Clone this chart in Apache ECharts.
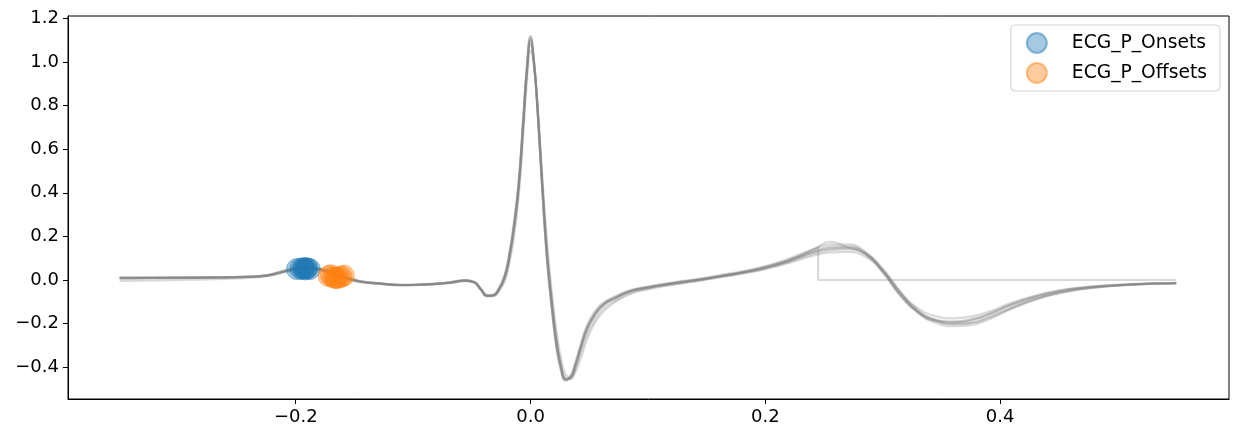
<!DOCTYPE html>
<html>
<head>
<meta charset="utf-8">
<script src="https://cdn.jsdelivr.net/npm/echarts@6/dist/echarts.min.js"></script>
<style>html,body{margin:0;padding:0;background:#fff}#c{width:1239px;height:439px}</style>
</head>
<body>
<div id="c"></div>
<script>
// shared time grid (s)
const t = [-0.35,-0.32,-0.29,-0.26,-0.24,-0.225,-0.215,-0.205,-0.195,-0.185,-0.175,-0.165,-0.155,-0.145,-0.13,-0.11,-0.09,-0.07,-0.055,-0.048,-0.042,-0.037,-0.032,-0.027,-0.022,-0.018,-0.014,-0.01,-0.006,-0.003,0.0,0.003,0.006,0.01,0.014,0.018,0.022,0.026,0.03,0.034,0.038,0.043,0.048,0.054,0.062,0.072,0.085,0.1,0.12,0.14,0.16,0.18,0.2,0.22,0.24,0.255,0.27,0.285,0.3,0.315,0.33,0.345,0.36,0.375,0.39,0.41,0.43,0.45,0.47,0.49,0.51,0.53,0.55];

// heartbeat epochs
const beat1 = [0.008,0.009,0.010,0.012,0.014,0.020,0.032,0.046,0.054,0.052,0.042,0.022,0.005,-0.008,-0.016,-0.023,-0.020,-0.012,-0.002,-0.010,-0.045,-0.072,-0.070,-0.040,0.020,0.120,0.260,0.450,0.750,0.980,1.120,1.000,0.780,0.420,0.100,-0.120,-0.300,-0.410,-0.460,-0.445,-0.390,-0.300,-0.220,-0.160,-0.110,-0.080,-0.050,-0.033,-0.015,0.000,0.016,0.035,0.058,0.090,0.130,0.152,0.155,0.125,0.040,-0.070,-0.145,-0.180,-0.190,-0.180,-0.155,-0.110,-0.075,-0.050,-0.035,-0.026,-0.020,-0.016,-0.014];
const beat2 = [-0.004,-0.002,0.001,0.005,0.010,0.018,0.028,0.042,0.052,0.054,0.046,0.028,0.010,-0.005,-0.014,-0.022,-0.021,-0.014,-0.004,-0.012,-0.048,-0.075,-0.074,-0.048,0.005,0.095,0.230,0.420,0.720,0.950,1.090,0.990,0.790,0.450,0.140,-0.080,-0.260,-0.385,-0.450,-0.455,-0.410,-0.330,-0.255,-0.190,-0.132,-0.095,-0.060,-0.040,-0.021,-0.005,0.012,0.030,0.052,0.082,0.118,0.136,0.140,0.122,0.052,-0.052,-0.138,-0.185,-0.202,-0.197,-0.172,-0.127,-0.087,-0.059,-0.041,-0.030,-0.022,-0.017,-0.015];
const beat3 = [0.012,0.012,0.012,0.013,0.015,0.022,0.036,0.050,0.056,0.050,0.038,0.018,0.002,-0.010,-0.018,-0.025,-0.022,-0.015,-0.005,-0.008,-0.040,-0.068,-0.072,-0.052,-0.005,0.080,0.200,0.390,0.680,0.920,1.050,0.980,0.800,0.480,0.180,-0.050,-0.230,-0.360,-0.435,-0.445,-0.425,-0.355,-0.275,-0.205,-0.145,-0.102,-0.064,-0.043,-0.023,-0.007,0.011,0.029,0.049,0.078,0.110,0.126,0.129,0.108,0.042,-0.058,-0.150,-0.196,-0.212,-0.207,-0.182,-0.132,-0.091,-0.061,-0.042,-0.030,-0.023,-0.018,-0.016];
const beat4 = [0.010,0.010,0.011,0.013,0.015,0.021,0.034,0.048,0.055,0.053,0.044,0.024,0.006,-0.007,-0.015,-0.022,-0.019,-0.011,-0.001,-0.009,-0.044,-0.071,-0.069,-0.038,0.025,0.125,0.270,0.460,0.760,0.990,1.110,0.995,0.770,0.410,0.090,-0.130,-0.310,-0.420,-0.462,-0.440,-0.380,-0.290,-0.208,-0.150,-0.103,-0.075,-0.046,-0.030,-0.012,0.003,0.021,0.040,0.064,0.098,0.140,0.162,0.164,0.130,0.045,-0.060,-0.130,-0.166,-0.176,-0.168,-0.146,-0.104,-0.071,-0.048,-0.034,-0.025,-0.019,-0.015,-0.013];
const beat5 = [0.006,0.008,0.010,0.012,0.014,0.019,0.030,0.044,0.053,0.053,0.044,0.025,0.008,-0.006,-0.015,-0.024,-0.021,-0.013,-0.003,-0.011,-0.046,-0.073,-0.071,-0.044,0.012,0.108,0.245,0.435,0.735,0.965,1.080,0.985,0.785,0.435,0.120,-0.100,-0.280,-0.398,-0.455,-0.450,-0.400,-0.310,-0.230,-0.168,-0.115,-0.084,-0.052,-0.035,-0.017,-0.002,0.016,0.034,0.056,0.087,0.126,0.146,0.150,0.120,0.038,-0.068,-0.148,-0.188,-0.196,-0.188,-0.162,-0.116,-0.080,-0.054,-0.038,-0.028,-0.021,-0.017,-0.015];
const beat6 = [0.009,0.010,0.011,0.012,0.015,0.020,0.031,0.045,0.054,0.053,0.043,0.023,0.006,-0.007,-0.016,-0.023,-0.020,-0.012,-0.002,-0.010,-0.045,-0.073,-0.071,-0.042,0.018,0.115,0.255,0.445,0.745,0.975,1.115,1.002,0.785,0.425,0.105,-0.115,-0.295,-0.405,-0.458,-0.448,-0.392,-0.302,-0.222,-0.162,-0.112,-0.082,-0.051,-0.034,-0.016,-0.001,0.017,0.036,0.060,0.092,0.134,0.175,0.150,0.118,0.035,-0.072,-0.150,-0.186,-0.194,-0.183,-0.158,-0.112,-0.077,-0.052,-0.036,-0.027,-0.021,-0.017,-0.015];
const beat7 = [0.007,0.009,0.010,0.011,0.013,0.019,0.031,0.045,0.053,0.053,0.045,0.026,0.008,-0.006,-0.015,-0.023,-0.021,-0.013,-0.003,-0.011,-0.046,-0.073,-0.072,-0.046,0.008,0.100,0.238,0.428,0.728,0.958,1.100,0.995,0.790,0.440,0.130,-0.090,-0.272,-0.392,-0.452,-0.452,-0.405,-0.315,-0.235,-0.172,-0.118,-0.086,-0.053,-0.036,-0.018,-0.003,0.015,0.033,0.055,0.086,0.124,0.142,0.146,0.124,0.048,-0.058,-0.142,-0.186,-0.202,-0.198,-0.174,-0.128,-0.088,-0.059,-0.041,-0.030,-0.022,-0.017,-0.015];
// truncated epoch: samples up to 0.24 s, then padded with zeros
const beat8 = [0.011,0.011,0.011,0.013,0.015,0.021,0.033,0.047,0.055,0.051,0.040,0.020,0.004,-0.009,-0.017,-0.024,-0.021,-0.013,-0.003,-0.011,-0.047,-0.074,-0.070,-0.041,0.015,0.112,0.250,0.440,0.740,0.970,1.100,0.995,0.780,0.430,0.110,-0.110,-0.290,-0.402,-0.455,-0.445,-0.395,-0.305,-0.225,-0.165,-0.113,-0.082,-0.052,-0.034,-0.016,-0.002,0.016,0.034,0.057,0.090,0.140];
const beat8TailT = [0.24, 0.245, 0.245, 0.55];
const beat8TailV = [0.14, 0.15, 0.0, 0.0];

// P onsets / offsets
const onsetT = [-0.199,-0.196,-0.193,-0.191,-0.190,-0.188,-0.192,-0.194];
const onsetV = [0.050,0.052,0.055,0.054,0.053,0.050,0.048,0.051];
const offsetT = [-0.172,-0.168,-0.166,-0.163,-0.161,-0.159,-0.165,-0.170];
const offsetV = [0.018,0.012,0.010,0.013,0.015,0.020,0.008,0.022];

const xTicks = [-0.2, 0.0, 0.2, 0.4];
const yTicks = [-0.4, -0.2, 0.0, 0.2, 0.4, 0.6, 0.8, 1.0, 1.2];

const fmt = v => (v < 0 ? '\u2212' : '') + Math.abs(v).toFixed(1);
const pairs = (xs, ys) => xs.map((x, i) => [x, ys[i]]).filter(p => p[1] !== undefined && p[1] !== null);

const beats = [beat1, beat2, beat3, beat4, beat5, beat6, beat7, beat8];
const lineStyle = { color: 'rgba(128,128,128,0.3)', width: 2.2 };
const series = beats.map(b => ({
  type: 'line', data: pairs(t, b), showSymbol: false, symbol: 'none',
  smooth: 0.5, lineStyle: lineStyle, silent: true, z: 2
}));
series.push({
  type: 'line', data: pairs(beat8TailT, beat8TailV), showSymbol: false, symbol: 'none',
  smooth: false, lineStyle: lineStyle, silent: true, z: 2
});
series.push({
  name: 'ECG_P_Onsets', type: 'scatter', data: pairs(onsetT, onsetV), symbolSize: 21,
  itemStyle: { color: 'rgba(31,119,180,0.5)', borderColor: 'rgba(31,119,180,0.6)', borderWidth: 1 }, z: 3
});
series.push({
  name: 'ECG_P_Offsets', type: 'scatter', data: pairs(offsetT, offsetV), symbolSize: 21,
  itemStyle: { color: 'rgba(255,127,14,0.5)', borderColor: 'rgba(255,127,14,0.6)', borderWidth: 1 }, z: 3
});

const chart = echarts.init(document.getElementById('c'));
const axisFont = { fontFamily: 'DejaVu Sans', fontSize: 18, color: '#000' };
chart.setOption({
  animation: false,
  backgroundColor: '#fff',
  grid: { left: 68, right: 10, top: 16, bottom: 40, show: true, borderColor: '#000', borderWidth: 1 },
  xAxis: {
    type: 'value', min: -0.394, max: 0.595,
    axisLine: { show: true, onZero: false, lineStyle: { color: '#000', width: 1 } },
    axisTick: { show: true, length: 5, lineStyle: { color: '#000' }, customValues: xTicks },
    axisLabel: Object.assign({ margin: 9, formatter: fmt, customValues: xTicks }, axisFont),
    splitLine: { show: false }
  },
  yAxis: {
    type: 'value', min: -0.546, max: 1.211,
    axisLine: { show: true, onZero: false, lineStyle: { color: '#000', width: 1 } },
    axisTick: { show: true, length: 5, lineStyle: { color: '#000' }, customValues: yTicks },
    axisLabel: Object.assign({ margin: 9, formatter: fmt, customValues: yTicks }, axisFont),
    splitLine: { show: false }
  },
  legend: {
    data: ['ECG_P_Onsets', 'ECG_P_Offsets'],
    orient: 'vertical', right: 19, top: 25,
    icon: 'circle', itemWidth: 20, itemHeight: 20, itemGap: 8,
    padding: [7, 13, 7, 15],
    borderColor: '#d0d0d0', borderWidth: 1, borderRadius: 4, backgroundColor: 'rgba(255,255,255,0.8)',
    textStyle: { fontFamily: 'DejaVu Sans', fontSize: 18.7, color: '#000', padding: [0, 0, 0, 20] }
  },
  series: series
});
</script>
</body>
</html>
